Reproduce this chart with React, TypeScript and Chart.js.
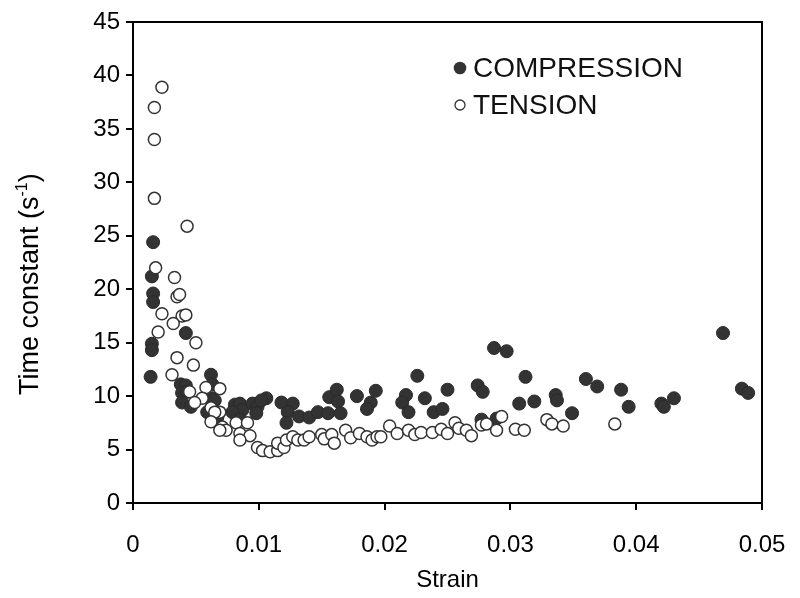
import React, { useEffect, useRef } from "react";
import { Chart, registerables } from "chart.js";

Chart.register(...registerables);

const compressionStrain = [
  0.0016, 0.0015, 0.0016, 0.0016, 0.0015, 0.0015, 0.0014, 0.0042, 0.0038, 0.0042,
  0.0039, 0.0043, 0.0039, 0.0046, 0.0062, 0.0063, 0.0063, 0.0065, 0.0059, 0.0067,
  0.0081, 0.0085, 0.0087, 0.0079, 0.0085, 0.0095, 0.0099, 0.0098, 0.0106, 0.0102,
  0.0118, 0.0127, 0.0123, 0.0122, 0.0132, 0.014, 0.0147, 0.0155, 0.0156, 0.0162,
  0.0163, 0.0165, 0.0178, 0.0193, 0.0189, 0.0186, 0.0217, 0.0214, 0.0219, 0.0226,
  0.0232, 0.025, 0.0239, 0.0246, 0.0287, 0.0297, 0.0274, 0.0278, 0.0312, 0.0307,
  0.0319, 0.0336, 0.0337, 0.0349, 0.036, 0.0369, 0.0388, 0.0394, 0.042, 0.0422,
  0.043, 0.0469, 0.0484, 0.0489, 0.0277, 0.0289,
];
const compressionTime = [
  24.4, 21.2, 19.6, 18.8, 14.9, 14.3, 11.8, 15.9, 11.1, 11.0,
  10.3, 10.4, 9.4, 9.0, 12.0, 11.1, 9.8, 9.6, 8.5, 8.0,
  9.2, 9.3, 8.7, 8.5, 7.8, 9.3, 9.0, 8.4, 9.8, 9.6,
  9.4, 9.3, 8.5, 7.5, 8.1, 8.0, 8.5, 8.4, 9.9, 10.6,
  9.5, 8.4, 10.0, 10.5, 9.4, 8.8, 10.1, 9.4, 8.5, 11.9,
  9.8, 10.6, 8.5, 8.8, 14.5, 14.2, 11.0, 10.4, 11.8, 9.3,
  9.5, 10.1, 9.6, 8.4, 11.6, 10.9, 10.6, 9.0, 9.3, 9.0,
  9.8, 15.9, 10.7, 10.3, 7.8, 7.9,
];

const tensionStrain = [
  0.0023, 0.0017, 0.0017, 0.0017, 0.0043, 0.0018, 0.0033, 0.0035, 0.0037, 0.0023,
  0.0039, 0.0042, 0.0032, 0.002, 0.005, 0.0035, 0.0048, 0.0031, 0.0045, 0.0058,
  0.0069, 0.0055, 0.0049, 0.0062, 0.0069, 0.0065, 0.0062, 0.0071, 0.0074, 0.0069,
  0.0082, 0.0091, 0.0085, 0.0093, 0.0085, 0.0099, 0.0103, 0.0109, 0.0115, 0.0115,
  0.012, 0.0122, 0.0127, 0.0131, 0.0136, 0.014, 0.015, 0.0152, 0.0158, 0.016,
  0.0169, 0.0173, 0.018, 0.0186, 0.019, 0.0194, 0.0197, 0.0204, 0.021, 0.0219,
  0.0224, 0.0229, 0.0238, 0.0245, 0.025, 0.0256, 0.0259, 0.0265, 0.0269, 0.0277,
  0.0281, 0.0289, 0.0293, 0.0304, 0.0311, 0.0329, 0.0333, 0.0342, 0.0383,
];
const tensionTime = [
  38.9, 37.0, 34.0, 28.5, 25.9, 22.0, 21.1, 19.3, 19.5, 17.7,
  17.5, 17.6, 16.8, 16.0, 15.0, 13.6, 12.9, 12.0, 10.4, 10.8,
  10.7, 9.8, 9.4, 8.9, 8.5, 8.5, 7.6, 7.1, 6.8, 6.8,
  7.5, 7.5, 6.5, 6.3, 5.9, 5.2, 4.9, 4.8, 4.9, 5.6,
  5.2, 5.9, 6.2, 5.9, 5.9, 6.2, 6.4, 6.0, 6.4, 5.6,
  6.8, 6.1, 6.5, 6.2, 5.9, 6.2, 6.2, 7.2, 6.5, 6.8,
  6.4, 6.6, 6.6, 6.9, 6.5, 7.5, 7.0, 6.8, 6.3, 7.3,
  7.4, 6.8, 8.1, 6.9, 6.8, 7.8, 7.4, 7.2, 7.4,
];

const seriesNames = ["COMPRESSION", "TENSION"];
const xTickValues = [0, 0.01, 0.02, 0.03, 0.04, 0.05];
const yTickValues = [0, 5, 10, 15, 20, 25, 30, 35, 40, 45];
const yTitleParts = ["Time constant (s", "-1", ")"];

const FONT = "'Liberation Sans', Arial, sans-serif";

const framePlugin = {
  id: "frameAndLegend",
  afterDraw(chart: any) {
    const { ctx, chartArea: a } = chart;
    ctx.save();
    ctx.strokeStyle = "#000";
    ctx.lineWidth = 2;
    ctx.strokeRect(a.left, a.top, a.right - a.left, a.bottom - a.top);

    // legend
    const lx = a.left + 327;
    const ly1 = a.top + 46;
    const ly2 = a.top + 83;
    ctx.beginPath();
    ctx.arc(lx, ly1, 6.3, 0, Math.PI * 2);
    ctx.fillStyle = "#333";
    ctx.fill();
    ctx.beginPath();
    ctx.arc(lx, ly2, 5, 0, Math.PI * 2);
    ctx.fillStyle = "#fff";
    ctx.fill();
    ctx.lineWidth = 1.3;
    ctx.strokeStyle = "#333";
    ctx.stroke();
    ctx.fillStyle = "#111";
    ctx.font = `28px ${FONT}`;
    ctx.textBaseline = "middle";
    ctx.textAlign = "left";
    ctx.fillText(seriesNames[0], lx + 13, ly1 + 1);
    ctx.fillText(seriesNames[1], lx + 13, ly2 + 1);

    // y-axis title with superscript
    const big = `27px ${FONT}`;
    const small = `16px ${FONT}`;
    ctx.font = big;
    const w1 = ctx.measureText(yTitleParts[0]).width;
    const w3 = ctx.measureText(yTitleParts[2]).width;
    ctx.font = small;
    const w2 = ctx.measureText(yTitleParts[1]).width;
    const total = w1 + w2 + w3;
    ctx.translate(28, a.top + (a.bottom - a.top) * 0.545);
    ctx.rotate(-Math.PI / 2);
    ctx.fillStyle = "#000";
    ctx.textBaseline = "alphabetic";
    let x0 = -total / 2;
    ctx.font = big;
    ctx.fillText(yTitleParts[0], x0, 10);
    x0 += w1;
    ctx.font = small;
    ctx.fillText(yTitleParts[1], x0, -1);
    x0 += w2;
    ctx.font = big;
    ctx.fillText(yTitleParts[2], x0, 10);
    ctx.restore();
  },
};

export default function App() {
  const ref = useRef<HTMLCanvasElement | null>(null);

  useEffect(() => {
    document.body.style.margin = "0";
    const canvas = ref.current;
    if (!canvas) return;
    const chart = new Chart(canvas, {
      type: "scatter",
      data: {
        datasets: [
          {
            label: seriesNames[0],
            data: compressionStrain.map((x, i) => ({ x, y: compressionTime[i] })),
            backgroundColor: "#333333",
            borderColor: "#2a2a2a",
            borderWidth: 1,
            pointRadius: 6.5,
            order: 2,
          },
          {
            label: seriesNames[1],
            data: tensionStrain.map((x, i) => ({ x, y: tensionTime[i] })),
            backgroundColor: "#ffffff",
            borderColor: "#333333",
            borderWidth: 1.5,
            pointRadius: 6,
            order: 1,
          },
        ],
      },
      options: {
        animation: false,
        responsive: false,
        layout: { padding: { top: 22, right: 38, left: 0, bottom: 0 } },
        plugins: {
          legend: { display: false },
          tooltip: { enabled: false },
        },
        scales: {
          x: {
            type: "linear",
            min: 0,
            max: 0.05,
            afterFit: (s: any) => {
              s.height = 95;
              s.paddingLeft = 0;
              s.paddingRight = 0;
            },
            afterBuildTicks: (s: any) => {
              s.ticks = xTickValues.map((v) => ({ value: v }));
            },
            ticks: {
              padding: 21,
              color: "#000",
              font: { family: FONT, size: 24 },
              callback: (v: any) => (v === 0 ? "0" : Number(v).toFixed(2)),
            },
            grid: {
              drawOnChartArea: false,
              drawTicks: true,
              tickLength: 7,
              color: "#000",
              lineWidth: 2,
            },
            border: { display: true, color: "#000", width: 2 },
            title: {
              display: true,
              text: "Strain",
              color: "#000",
              font: { family: FONT, size: 24 },
              padding: { top: 0, bottom: 3 },
            },
          },
          y: {
            type: "linear",
            min: 0,
            max: 45,
            afterFit: (s: any) => {
              s.width = 133;
            },
            afterBuildTicks: (s: any) => {
              s.ticks = yTickValues.map((v) => ({ value: v }));
            },
            ticks: {
              padding: 6,
              color: "#000",
              font: { family: FONT, size: 24 },
            },
            grid: {
              drawOnChartArea: false,
              drawTicks: true,
              tickLength: 7,
              color: "#000",
              lineWidth: 2,
            },
            border: { display: true, color: "#000", width: 2 },
            title: { display: false },
          },
        },
      },
      plugins: [framePlugin],
    });
    return () => chart.destroy();
  }, []);

  return (
    <div style={{ position: "absolute", left: 0, top: 0, width: 800, height: 598 }}>
      <canvas ref={ref} width={800} height={598} style={{ display: "block" }} />
    </div>
  );
}
